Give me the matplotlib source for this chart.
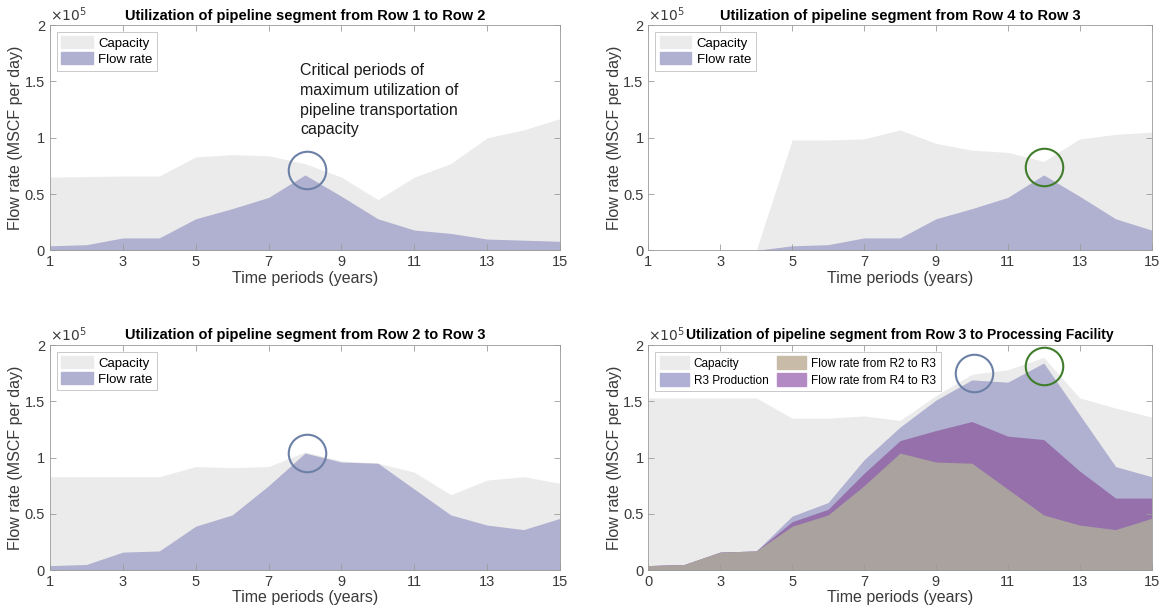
import numpy as np
import matplotlib
matplotlib.use("Agg")
from matplotlib import pyplot as plt
from matplotlib.patches import Patch
from matplotlib.ticker import FuncFormatter

plt.rcParams['font.family'] = ['Liberation Sans', 'DejaVu Sans']

## data (MSCF per day)
years = np.arange(1, 16)

cap_r1_r2 = [65000, 65500, 66000, 66000, 83000, 85000, 84000, 77000, 65000, 45000, 65000, 77000, 100000, 107000, 117000]
flow_r1_r2 = [4000, 5000, 11000, 11000, 28000, 37000, 47000, 67000, 48000, 28000, 18000, 15000, 10000, 9000, 8000]

cap_r4_r3 = [0, 0, 0, 0, 98000, 98000, 99000, 107000, 95000, 89000, 87000, 79000, 99000, 103000, 105000]
flow_r4_r3 = [0, 0, 0, 0, 4000, 5000, 11000, 11000, 28000, 37000, 47000, 67000, 48000, 28000, 18000]

cap_r2_r3 = [83000, 83000, 83000, 83000, 92000, 91000, 92000, 105000, 97000, 95000, 87000, 67000, 80000, 83000, 77000]
flow_r2_r3 = [4000, 5000, 16000, 17000, 39000, 49000, 75000, 104000, 96000, 95000, 72000, 49000, 40000, 36000, 46000]

cap_r3_pf = [153000, 153000, 153000, 153000, 135000, 135000, 137000, 133000, 155000, 174000, 178000, 189000, 153000, 144000, 136000]
prod_r3 = [0, 0, 0, 0, 5000, 6000, 12000, 12000, 27000, 37000, 48000, 68000, 50000, 28000, 19000]

# critical periods (circles)
crit_r1_r2 = ([8.05], [71000])
crit_r4_r3 = ([12.0], [74000])
crit_r2_r3 = ([8.05], [104000])
crit_r3_pf_blue = ([10.05], [175000])
crit_r3_pf_green = ([12.0], [181000])

xticks = [1, 3, 5, 7, 9, 11, 13, 15]
xlabels_last = ['0', '3', '5', '7', '9', '11', '13', '15']

c_cap = '#ebebeb'
c_flow = '#b0b0d0'
c_r2 = '#aaa29f'
c_r4 = '#9570ab'
c_blue = '#6c80a6'
c_green = '#3f7d2a'
txt = '#3a3a3a'

fig = plt.figure(figsize=(11.62, 6.15), dpi=100)
pos = [[0.043, 0.593, 0.439, 0.366], [0.558, 0.593, 0.433, 0.366],
       [0.043, 0.073, 0.439, 0.366], [0.558, 0.073, 0.433, 0.366]]
axs = [fig.add_axes(p) for p in pos]


def style(ax, title, tsize=10.5):
    ax.set_xlim(1, 15)
    ax.set_ylim(0, 200000)
    ax.set_xticks(xticks)
    ax.set_yticks([0, 50000, 100000, 150000, 200000])
    ax.yaxis.set_major_formatter(FuncFormatter(lambda v, p: f'{v/1e5:g}'))
    ax.tick_params(direction='in', top=True, right=True, length=4, width=0.6,
                   colors='#9a9a9a', labelcolor=txt, labelsize=10.5)
    for s in ax.spines.values():
        s.set_color('#9a9a9a')
        s.set_linewidth(0.6)
    ax.set_xlabel('Time periods (years)', fontsize=11.5, color=txt, labelpad=1)
    ax.set_ylabel('Flow rate (MSCF per day)', fontsize=11.5, color=txt, labelpad=1)
    ax.set_title(title, fontsize=tsize, fontweight='bold', pad=4)
    ax.text(0.0, 1.005, r'$\times10^5$', transform=ax.transAxes, fontsize=10,
            color=txt, ha='left', va='bottom')


def circle(ax, pt, color):
    ax.plot(pt[0], pt[1], 'o', ms=27, mfc='none', mec=color, mew=1.5, zorder=5)


def simple(ax, cap, flow, title):
    ax.fill_between(years, 0, cap, color=c_cap, lw=0)
    ax.fill_between(years, 0, flow, color=c_flow, lw=0)
    style(ax, title)
    hs = [Patch(color=c_cap), Patch(color=c_flow)]
    leg = ax.legend(hs, ['Capacity', 'Flow rate'], loc='upper left', fontsize=9.5,
                    frameon=True, fancybox=False, borderaxespad=0.5,
                    handlelength=2.4, handleheight=1.0, handletextpad=0.4,
                    labelspacing=0.2, borderpad=0.35)
    leg.get_frame().set_edgecolor('#b0b0b0')
    leg.get_frame().set_linewidth(0.6)


simple(axs[0], cap_r1_r2, flow_r1_r2, 'Utilization of pipeline segment from Row 1 to Row 2')
circle(axs[0], crit_r1_r2, c_blue)
axs[0].text(7.87, 166000, 'Critical periods of\nmaximum utilization of\npipeline transportation\ncapacity',
            fontsize=11.5, color='#1a1a1a', ha='left', va='top', linespacing=1.38)

simple(axs[1], cap_r4_r3, flow_r4_r3, 'Utilization of pipeline segment from Row 4 to Row 3')
circle(axs[1], crit_r4_r3, c_green)

simple(axs[2], cap_r2_r3, flow_r2_r3, 'Utilization of pipeline segment from Row 2 to Row 3')
circle(axs[2], crit_r2_r3, c_blue)

# stacked segment into the processing facility
ax = axs[3]
r2 = np.array(flow_r2_r3)
r24 = r2 + np.array(flow_r4_r3)
total = r24 + np.array(prod_r3)
ax.fill_between(years, 0, cap_r3_pf, color=c_cap, lw=0)
ax.fill_between(years, 0, total, color=c_flow, lw=0)
ax.fill_between(years, 0, r24, color=c_r4, lw=0)
ax.fill_between(years, 0, r2, color=c_r2, lw=0)
style(ax, 'Utilization of pipeline segment from Row 3 to Processing Facility', tsize=10)
ax.set_xticklabels(xlabels_last)
hs = [Patch(color=c_cap), Patch(color='#b0b0d4'), Patch(color='#c8bca8'), Patch(color='#b48ac4')]
leg = ax.legend(hs, ['Capacity', 'R3 Production', 'Flow rate from R2 to R3', 'Flow rate from R4 to R3'],
                loc='upper left', ncol=2, fontsize=8.5, frameon=True, fancybox=False,
                borderaxespad=0.55, handlelength=2.5, handleheight=1.3, handletextpad=0.4,
                labelspacing=0.3, borderpad=0.4, columnspacing=0.7)
leg.get_frame().set_edgecolor('#b0b0b0')
leg.get_frame().set_linewidth(0.6)
circle(ax, crit_r3_pf_blue, c_blue)
circle(ax, crit_r3_pf_green, c_green)

fig.savefig('out.png', dpi=100, facecolor='white')
